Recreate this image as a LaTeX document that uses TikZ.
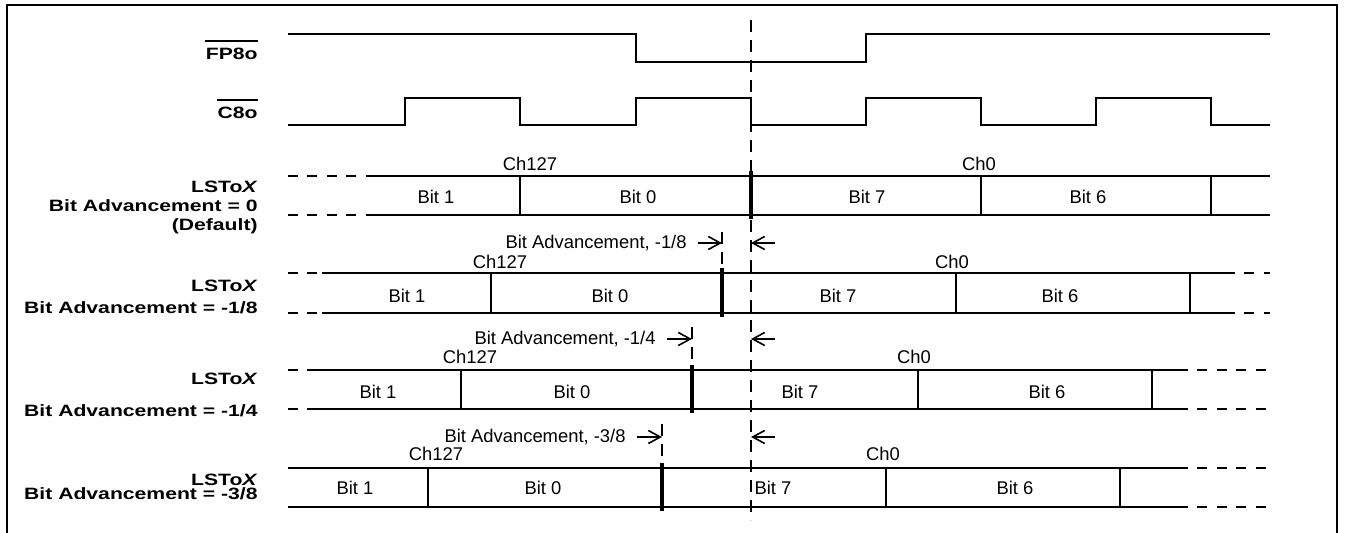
\documentclass[tikz,border=0pt]{standalone}
\usepackage{fontspec}
\setmainfont{Liberation Sans}
\newfontfamily\lblfont{Liberation Sans}[FakeStretch=1.29]
\usetikzlibrary{arrows.meta}

\tikzset{
    wave/.style={line width=1pt},
    cell/.style={line width=1pt},
    divthin/.style={line width=0.9pt},
    divthick/.style={line width=1.6pt},
    cont/.style={line width=1pt, dash pattern=on 5pt off 4.7pt},
    refdash/.style={line width=0.9pt, dash pattern=on 6pt off 4pt},
    txt/.style={font=\fontsize{9.2}{11}\selectfont, inner sep=0pt},
    sig/.style={font=\lblfont\bfseries\fontsize{8.2}{10}\selectfont, inner sep=0pt, anchor=base east},
    adv/.style={-{Straight Barb[length=6pt,width=6.5pt]}, line width=0.8pt},
}

\begin{document}
\begin{tikzpicture}[x=0.5pt, y=-0.5pt]
    \useasboundingbox (0,0) rectangle (1346,533);
    \draw[line width=1pt] (6.5,533) -- (6.5,4.7) -- (1337,4.7) -- (1337,533);

    % Signal names
    \node[sig] (fp) at (258,60) {FP8o};
    \draw[line width=1pt] ([yshift=3.8pt]fp.north west) -- ([yshift=3.8pt]fp.north east);
    \node[sig] (ck) at (258,119) {C8o};
    \draw[line width=1pt] ([yshift=3.8pt]ck.north west) -- ([yshift=3.8pt]ck.north east);

    \node[sig] (n1a) at (258,192.3) {LSTo\textit{X}};
    \node[sig] (n1b) at (258,211.7) {Bit Advancement = 0};
    \node[sig] (n1c) at (258,230.7) {(Default)};
    \node[sig] (n2a) at (258,291.7) {LSTo\textit{X}};
    \node[sig] (n2b) at (258,313.3) {Bit Advancement = -1/8};
    \node[sig] (n3a) at (258,385) {LSTo\textit{X}};
    \node[sig] (n3b) at (258,416.7) {Bit Advancement = -1/4};
    \node[sig] (n4a) at (258,485.7) {LSTo\textit{X}};
    \node[sig] (n4b) at (258,500) {Bit Advancement = -3/8};

    % Frame pulse and clock
    \draw[wave] (288,34) -- (636,34) -- (636,62) -- (866,62) -- (866,34) -- (1270,34);
    \draw[wave] (288,125) -- (405,125) -- (405,98) -- (520,98) -- (520,125) -- (636,125)
        -- (636,98) -- (751,98) -- (751,125) -- (866,125) -- (866,98) -- (981,98)
        -- (981,125) -- (1096,125) -- (1096,98) -- (1211,98) -- (1211,125) -- (1270,125);

    % Data rows
    \foreach \t/\b/\xs/\xe/\da/\db/\dc/\dd in {176/215/374/1270/520/751/981/1211,
        273/313/322/1225/491/722/956/1190, 370/409/310/1178/461/692/918/1152,
        468/507/298/1178/428/662/886/1120}{
        \draw[cont] (288,\t) -- (\xs,\t) (288,\b) -- (\xs,\b);
        \draw[cell] (\xs,\t) -- (\xe,\t) (\xs,\b) -- (\xe,\b);
        \draw[cont] (\xe,\t) -- (1270,\t) (\xe,\b) -- (1270,\b);
        \draw[divthin] (\da,\t) -- (\da,\b) (\dc,\t) -- (\dc,\b) (\dd,\t) -- (\dd,\b);
        \draw[divthick] (\db,{\t-5}) -- (\db,{\b+4});
    }
    \foreach \r/\yb/\yc/\ba/\bb/\bc/\bd/\ca/\cb in {1/204/170.7/436/638/867/1088/530/979,
        2/302.3/268.3/407/610/838/1060/500/952, 3/398.3/363.3/378/572/800/1047/470/914,
        4/495/461/355/543/773/1015/436/883}{
        \node[txt, anchor=base] (b1r\r) at (\ba,\yb) {Bit 1};
        \node[txt, anchor=base] (b0r\r) at (\bb,\yb) {Bit 0};
        \node[txt, anchor=base] (b7r\r) at (\bc,\yb) {Bit 7};
        \node[txt, anchor=base] (b6r\r) at (\bd,\yb) {Bit 6};
        \node[txt, anchor=base] (hir\r) at (\ca,\yc) {Ch127};
        \node[txt, anchor=base] (lor\r) at (\cb,\yc) {Ch0};
    }

    % Advancement markers
    \foreach \r/\y/\xt/\xm/\ya/\yt/\f in {2/243/687/722/232/268/{-1/8},
        3/339/656/692/327/365/{-1/4}, 4/437/626/662/424/463/{-3/8}}{
        \coordinate (m\r) at (\xm,\y);
        \coordinate (c\r) at (751,\y);
        \node[txt, anchor=east] (adv\r) at (\xt,\y) {Bit Advancement, \f};
        \draw[refdash] (\xm,\ya) -- (\xm,\yt);
        \draw[adv] ([xshift=5.3pt]adv\r.east) -- (m\r);
        \draw[adv] ([xshift=12pt]c\r) -- (c\r);
    }

    % Reference edge
    \draw[refdash] (751,20) -- (751,520);
\end{tikzpicture}
\end{document}
